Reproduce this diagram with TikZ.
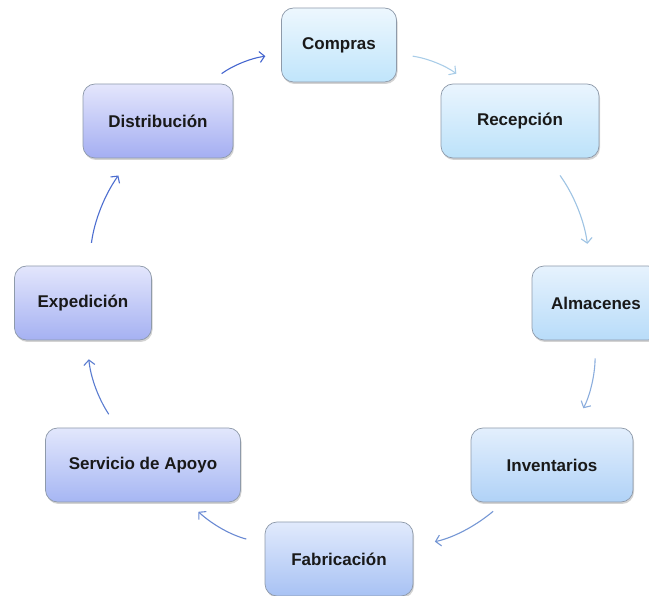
\documentclass[tikz,border=0pt]{standalone}
\usepackage{fontspec}
\setmainfont{Liberation Sans}
\usepackage{xcolor}
\usetikzlibrary{arrows.meta,shadows}

% fill gradients, one pair per stage
\definecolor{topA}{HTML}{EDF7FE}\definecolor{botA}{HTML}{C0E5FB}
\definecolor{topB}{HTML}{EAF5FE}\definecolor{botB}{HTML}{BCE2FA}
\definecolor{topC}{HTML}{E6F2FD}\definecolor{botC}{HTML}{B8DCF9}
\definecolor{topD}{HTML}{E3EFFD}\definecolor{botD}{HTML}{B0D2F7}
\definecolor{topE}{HTML}{E1EAFC}\definecolor{botE}{HTML}{A8C2F4}
\definecolor{topF}{HTML}{E2E7FC}\definecolor{botF}{HTML}{A6B6F3}
\definecolor{topG}{HTML}{E3E6FC}\definecolor{botG}{HTML}{A5B1F2}
\definecolor{topH}{HTML}{E4E6FC}\definecolor{botH}{HTML}{A4AEF2}
\definecolor{borde}{HTML}{8E9AAA}
% arrow colours around the cycle
\definecolor{fl1}{HTML}{4566CF}\definecolor{fl2}{HTML}{A9CDE8}
\definecolor{fl3}{HTML}{9EC3E3}\definecolor{fl4}{HTML}{8BADDD}
\definecolor{fl5}{HTML}{7496D4}\definecolor{fl6}{HTML}{6A8AD3}
\definecolor{fl7}{HTML}{5A7CD0}\definecolor{fl8}{HTML}{4D6ED0}

\begin{document}
\begin{tikzpicture}[x=1pt,y=-1pt,
  etapa/.style={draw=borde, line width=0.7pt, rounded corners=12pt, minimum height=74pt,
    font=\fontsize{17}{20}\selectfont\bfseries, text=black!90,
    drop shadow={shadow xshift=1pt,shadow yshift=-2pt,opacity=0.35}},
  flecha/.style={line width=1.1pt, -{Straight Barb[length=5pt,width=11pt]}, bend left=14}]
  \useasboundingbox (0,0) rectangle (649,596);
  \foreach \n/\x/\y/\w/\t/\txt in {comp/339/45/115pt/A/Compras, rec/520/121/158pt/B/Recepción,
      alm/596/303/128pt/C/Almacenes, inv/552/465/162pt/D/Inventarios, fab/339/559/148pt/E/Fabricación,
      serv/143/465/195pt/F/Servicio de Apoyo, exp/83/303/137pt/G/Expedición, dist/158/121/150pt/H/Distribución}{
    \node[etapa, minimum width=\w, top color=top\t, bottom color=bot\t] (\n) at (\x,\y) {\txt};
  }
  \foreach \a/\b/\s/\e/\c in {dist/comp/17/16/fl1, comp/rec/16/17/fl2, rec/alm/21/22/fl3, alm/inv/18/22/fl4,
      inv/fab/14/22/fl5, fab/serv/19/14/fl6, serv/exp/16/19/fl7, exp/dist/23/21/fl8}{
    \draw[flecha, draw=\c, shorten <=\s pt, shorten >=\e pt] (\a) to (\b);
  }
\end{tikzpicture}
\end{document}
